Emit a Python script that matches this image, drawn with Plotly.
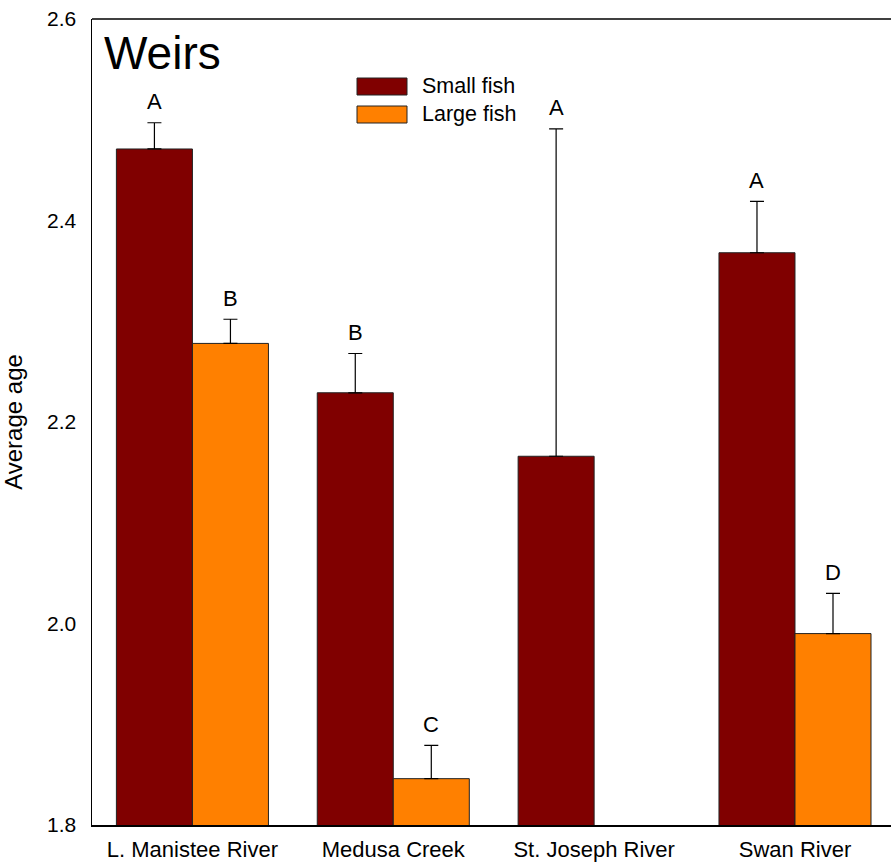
import plotly.graph_objects as go

# Average age per river, split by fish size
sites = ["L. Manistee River", "Medusa Creek", "St. Joseph River", "Swan River"]

small_age = [2.471, 2.229, 2.166, 2.368]
small_err = [0.026, 0.039, 0.325, 0.051]
small_grp = ["A", "B", "A", "A"]

large_age = [2.278, 1.846, None, 1.990]
large_err = [0.024, 0.033, None, 0.040]
large_grp = ["B", "C", None, "D"]

y_ticks = [1.8, 2.0, 2.2, 2.4, 2.6]

SMALL_COLOR = "#800000"
LARGE_COLOR = "#FF8000"
FONT = "Liberation Sans, Arial, sans-serif"
BARGAP = 0.243

fig = go.Figure()

def add_series(name, ages, errs, color):
    fig.add_trace(go.Bar(
        name=name,
        x=sites,
        y=ages,
        marker=dict(color=color, line=dict(color="#222222", width=1)),
        error_y=dict(type="data", symmetric=False,
                     array=[e if e is not None else 0 for e in errs],
                     arrayminus=[0] * len(errs),
                     color="black", thickness=1.2, width=7),
        showlegend=False,
    ))

add_series("Small fish", small_age, small_err, SMALL_COLOR)
add_series("Large fish", large_age, large_err, LARGE_COLOR)

# Significance letters above each error bar
half = (1 - BARGAP) / 4
annotations = []
for i, site in enumerate(sites):
    for ages, errs, grp, off in ((small_age, small_err, small_grp, -half),
                                 (large_age, large_err, large_grp, half)):
        if ages[i] is None or grp[i] is None:
            continue
        annotations.append(dict(
            x=i + off, y=ages[i] + errs[i], xref="x", yref="y",
            text=grp[i], showarrow=False, yshift=21, yanchor="middle",
            font=dict(family=FONT, size=22, color="black"),
        ))

# Panel label
annotations.append(dict(
    x=0, y=1, xref="paper", yref="paper", xanchor="left", yanchor="top",
    xshift=10, yshift=-6, text="Weirs", showarrow=False,
    font=dict(family=FONT, size=46, color="black"),
))

# Top frame line (open on the right)
shapes = [dict(type="line", xref="paper", yref="paper", x0=0, x1=1, y0=1, y1=1,
               line=dict(color="black", width=1.5))]

# Legend (swatches + labels)
PW = 799
for k, (label, color) in enumerate((("Small fish", SMALL_COLOR), ("Large fish", LARGE_COLOR))):
    y0 = 1 - (78 - 19 + k * 28) / 806
    y1 = 1 - (95 - 19 + k * 28) / 806
    x0 = (357 - 92) / PW
    x1 = (407 - 92) / PW
    shapes.append(dict(type="rect", xref="paper", yref="paper",
                       x0=x0, x1=x1, y0=y1, y1=y0,
                       fillcolor=color, line=dict(color="#222222", width=1)))
    annotations.append(dict(
        x=(420 - 92) / PW, y=(y0 + y1) / 2, xref="paper", yref="paper",
        xanchor="left", yanchor="middle", text=label, showarrow=False,
        font=dict(family=FONT, size=21.5, color="black"),
    ))

fig.update_layout(
    width=891, height=862,
    margin=dict(l=92, r=0, t=19, b=37, autoexpand=False),
    paper_bgcolor="white", plot_bgcolor="white",
    barmode="group", bargap=BARGAP, bargroupgap=0,
    font=dict(family=FONT, size=21, color="black"),
    annotations=annotations, shapes=shapes,
    showlegend=False,
)

fig.update_xaxes(
    type="category", range=[-0.5, 3.478], automargin=False,
    showline=True, linecolor="black", linewidth=1.5, mirror=False,
    ticks="", showgrid=False, zeroline=False,
    tickfont=dict(family=FONT, size=22), ticklabelstandoff=4,
)
fig.update_yaxes(
    range=[1.8, 2.6], tickvals=y_ticks, tickformat=".1f", automargin=False,
    showline=True, linecolor="black", linewidth=1.5, mirror=False,
    ticks="", showgrid=False, zeroline=False,
    tickfont=dict(family=FONT, size=21), ticklabelstandoff=10,
    title=dict(text="Average age", font=dict(family=FONT, size=24), standoff=22),
)

# Keep the page free of scrollbars
no_scroll = ("document.documentElement.style.overflow='hidden';"
             "document.body.style.overflow='hidden';"
             "document.body.style.margin='0';")

fig.write_html("out.html", config={"staticPlot": True, "displayModeBar": False},
               post_script=no_scroll)
